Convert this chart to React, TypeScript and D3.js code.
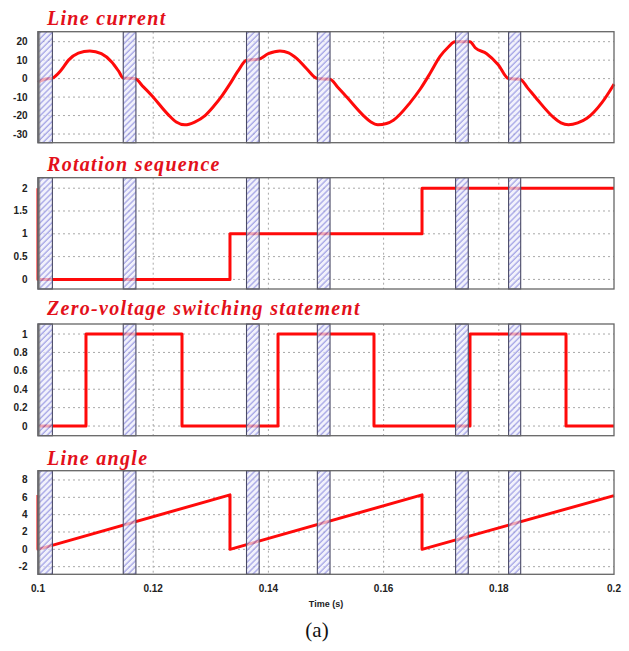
import React from "react";
import * as d3 from "d3";

// ---------- data ----------
const timeTicks = [0.1, 0.12, 0.14, 0.16, 0.18, 0.2];
const timeTickLabels = ["0.1", "0.12", "0.14", "0.16", "0.18", "0.2"];

const bandStart = [0.1, 0.1148, 0.1362, 0.1485, 0.1725, 0.1817];
const bandEnd = [0.1025, 0.117, 0.1384, 0.1507, 0.1747, 0.1838];

const currentT = [
  0.1, 0.101, 0.1025, 0.104, 0.1053, 0.107, 0.109, 0.111, 0.1128, 0.114, 0.1148, 0.1168,
  0.1183, 0.1197, 0.1226, 0.124, 0.1255, 0.1272, 0.129, 0.1305, 0.1319, 0.1333, 0.1347, 0.1362,
  0.1383, 0.14, 0.142, 0.1435, 0.1449, 0.1466, 0.1485, 0.1507, 0.152, 0.1536, 0.1565,
  0.1578, 0.159, 0.1605, 0.1617, 0.1646, 0.1664, 0.1681, 0.1698, 0.1712, 0.1724, 0.175,
  0.1759, 0.1779, 0.1799, 0.1817, 0.1837, 0.185, 0.1866, 0.1895, 0.1908, 0.1921, 0.1937,
  0.1953, 0.1979, 0.2,
];
const currentV = [
  -2, -0.5, 0.3, 4.5, 10, 13.8, 15, 13.5, 9, 4, 0.3, 0,
  -4.5, -9, -19.5, -23.5, -25, -23.5, -20, -15, -9.5, -3, 4, 10,
  10.5, 13.5, 15, 14, 11, 5.5, 0, -0.3, -4.5, -10, -20,
  -23.5, -25, -24.3, -22.5, -13, -5.5, 3, 12, 17, 20, 20,
  16.7, 13.5, 7.5, 0, -0.3, -5, -11, -21, -24, -25, -24,
  -21.5, -13, -3,
];
const currentTicks = [20, 10, 0, -10, -20, -30];

const rotT = [0.1, 0.1, 0.13333, 0.13333, 0.16667, 0.16667, 0.2];
const rotV = [2, 0, 0, 1, 1, 2, 2];
const rotTicks = [2, 1.5, 1, 0.5, 0];

const zvsT = [0.1, 0.10833, 0.10833, 0.125, 0.125, 0.14167, 0.14167, 0.15833, 0.15833, 0.175, 0.175, 0.19167, 0.19167, 0.2];
const zvsV = [0, 0, 1, 1, 0, 0, 1, 1, 0, 0, 1, 1, 0, 0];
const zvsTicks = [1, 0.8, 0.6, 0.4, 0.2, 0];

const angT = [0.1, 0.1, 0.13333, 0.13333, 0.16667, 0.16667, 0.2];
const angV = [6.28, 0, 6.28, 0, 6.28, 0, 6.2];
const angTicks = [8, 6, 4, 2, 0, -2];

const titles = ["Line current", "Rotation sequence", "Zero-voltage switching statement", "Line angle"];

// ---------- layout ----------
const W = 629;
const H = 651;
const X0 = 38;
const X1 = 614;

const panels = [
  { title: titles[0], titleY: 25, top: 31.7, bottom: 142.7, domain: [-34.7, 25.4], ticks: currentTicks, t: currentT, v: currentV, smooth: true },
  { title: titles[1], titleY: 170.5, top: 177.7, bottom: 289, domain: [-0.21, 2.23], ticks: rotTicks, t: rotT, v: rotV, smooth: false },
  { title: titles[2], titleY: 315, top: 324, bottom: 435.7, domain: [-0.105, 1.109], ticks: zvsTicks, t: zvsT, v: zvsV, smooth: false },
  { title: titles[3], titleY: 465, top: 470.7, bottom: 574.3, domain: [-2.88, 9.07], ticks: angTicks, t: angT, v: angV, smooth: false },
];

const RED = "#ff0a0a";
const TITLE_RED = "#e3101a";

export default function App() {
  const x = d3.scaleLinear().domain([0.1, 0.2]).range([X0, X1]);

  return (
    <svg
      width={W}
      height={H}
      viewBox={`0 0 ${W} ${H}`}
      style={{ position: "absolute", left: 0, top: 0, background: "#fff" }}
    >
      <defs>
        <pattern id="hatch" patternUnits="userSpaceOnUse" width="4.2" height="4.2" patternTransform="rotate(45)">
          <rect width="4.2" height="4.2" fill="#ececfb" />
          <line x1="1" y1="0" x2="1" y2="4.2" stroke="#8484dc" strokeWidth="1.4" />
        </pattern>
      </defs>
      <rect x={0} y={0} width={W} height={H} fill="#fff" />
      {panels.map((p, pi) => {
        const y = d3.scaleLinear().domain(p.domain).range([p.bottom, p.top]);
        const pts: [number, number][] = p.t.map((t, i) => [t, p.v[i]]);
        const line = d3
          .line<[number, number]>()
          .x((d) => x(d[0]))
          .y((d) => y(d[1]))
          .curve(p.smooth ? d3.curveMonotoneX : d3.curveLinear);
        return (
          <g key={pi}>
            <text
              x={47}
              y={p.titleY}
              fill={TITLE_RED}
              fontFamily="'Liberation Serif', 'Times New Roman', serif"
              fontWeight="bold"
              fontStyle="italic"
              fontSize={20}
              letterSpacing={1.3}
            >
              {p.title}
            </text>
            {/* grid */}
            {p.ticks.map((tk) => (
              <line
                key={"h" + tk}
                x1={X0}
                x2={X1}
                y1={y(tk)}
                y2={y(tk)}
                stroke="#a8a8a8"
                strokeWidth={1}
                strokeDasharray="2,3"
              />
            ))}
            {timeTicks.slice(1, -1).map((tk) => (
              <line
                key={"v" + tk}
                x1={x(tk)}
                x2={x(tk)}
                y1={p.top}
                y2={p.bottom}
                stroke="#a8a8a8"
                strokeWidth={1}
                strokeDasharray="2,3"
              />
            ))}
            {/* y tick labels */}
            {p.ticks.map((tk) => (
              <text
                key={"t" + tk}
                x={27.5}
                y={y(tk)}
                dy="0.35em"
                textAnchor="end"
                fontFamily="'Liberation Sans', Arial, sans-serif"
                fontWeight="bold"
                fontSize={10}
                fill="#222"
              >
                {String(tk)}
              </text>
            ))}
            {/* signal */}
            <path d={line(pts) || ""} fill="none" stroke={RED} strokeWidth={3} strokeLinejoin="round" />
            {/* bands */}
            {bandStart.map((b, i) => (
              <rect
                key={"b" + i}
                x={x(b)}
                y={p.top}
                width={x(bandEnd[i]) - x(b)}
                height={p.bottom - p.top}
                fill="url(#hatch)"
                fillOpacity={0.7}
                stroke="#4a4a66"
                strokeWidth={1.1}
              />
            ))}
            <line x1={X0 + 1} x2={X0 + 1} y1={p.top} y2={p.bottom} stroke="#777" strokeWidth={2.5} opacity={0.7} />
            {/* frame */}
            <rect
              x={X0}
              y={p.top}
              width={X1 - X0}
              height={p.bottom - p.top}
              fill="none"
              stroke="#666"
              strokeWidth={1.3}
            />
          </g>
        );
      })}
      {/* x axis labels */}
      {timeTicks.map((tk, i) => (
        <text
          key={"xt" + tk}
          x={x(tk)}
          y={592}
          textAnchor="middle"
          fontFamily="'Liberation Sans', Arial, sans-serif"
          fontWeight="bold"
          fontSize={10}
          fill="#222"
        >
          {timeTickLabels[i]}
        </text>
      ))}
      <text
        x={326}
        y={607}
        textAnchor="middle"
        fontFamily="'Liberation Sans', Arial, sans-serif"
        fontWeight="bold"
        fontSize={9}
        fill="#222"
      >
        Time (s)
      </text>
      <text
        x={317}
        y={637}
        textAnchor="middle"
        fontFamily="'Liberation Serif', 'Times New Roman', serif"
        fontSize={21}
        fill="#111"
      >
        (a)
      </text>
    </svg>
  );
}
